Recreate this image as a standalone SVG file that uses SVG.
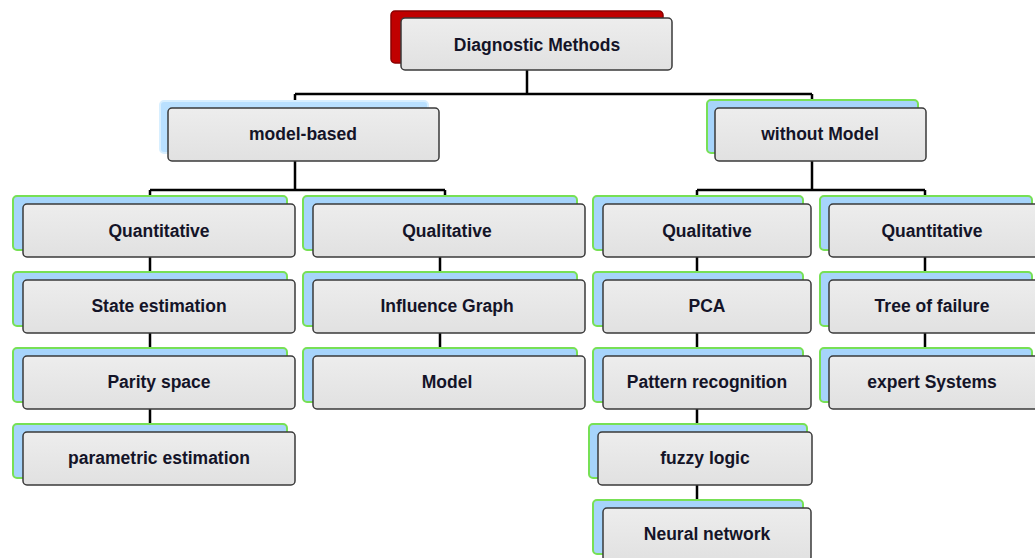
<svg xmlns="http://www.w3.org/2000/svg" width="1035" height="558" viewBox="0 0 1035 558">
<style>
.back{fill:#a6d4fb;stroke:#77e055;stroke-width:2}
.backb{fill:#b9e0ff;stroke:#d8efff;stroke-width:2}
.backr{fill:#c00000;stroke:#8a0000;stroke-width:1.5}
.front{fill:url(#g);stroke:#3a3a3a;stroke-width:1.5}
.t{font-family:"Liberation Sans",Arial,sans-serif;font-weight:bold;font-size:17.5px;fill:#141428;text-anchor:middle;dominant-baseline:central}
.c{stroke:#000;stroke-width:2.5;fill:none}
</style>
<defs>
<linearGradient id="g" x1="0" y1="0" x2="0" y2="1">
<stop offset="0" stop-color="#ededed"/>
<stop offset="1" stop-color="#e1e1e1"/>
</linearGradient>
</defs>
<g id="connectors">
<path class="c" d="M527 70V94M295 94H812M295 94V108M812 94V100"/>
<path class="c" d="M295 161V190M150 190H445M150 190V196M445 190V196"/>
<path class="c" d="M812 161V190M697 190H925M697 190V196M925 190V196"/>
<path class="c" d="M150 257V272M150 333V348M150 409V424"/>
<path class="c" d="M440 257V272M440 333V348"/>
<path class="c" d="M697 257V272M697 333V348M697 409V424M697 485V500"/>
<path class="c" d="M925 257V272M925 333V348"/>
</g>
<g id="n-root"><rect class="backr" x="391" y="11" width="272" height="52" rx="4"/><rect class="front" x="401" y="18" width="271" height="52" rx="4"/><text class="t" x="537" y="45">Diagnostic  Methods</text></g>
<g id="n-model-based"><rect class="backb" x="160" y="101" width="268" height="52" rx="4"/><rect class="front" x="168" y="108" width="271" height="53" rx="4"/><text class="t" x="303" y="134">model-based</text></g>
<g id="n-without"><rect class="back" x="707" y="100" width="211" height="53" rx="4"/><rect class="front" x="715" y="108" width="211" height="53" rx="4"/><text class="t" x="820" y="134">without Model</text></g>

<g id="n-quant1"><rect class="back" x="13" y="196" width="274" height="54" rx="4"/><rect class="front" x="23" y="204" width="272" height="53" rx="4"/><text class="t" x="159" y="231">Quantitative</text></g>
<g id="n-state"><rect class="back" x="13" y="272" width="274" height="54" rx="4"/><rect class="front" x="23" y="280" width="272" height="53" rx="4"/><text class="t" x="159" y="306">State estimation</text></g>
<g id="n-parity"><rect class="back" x="13" y="348" width="274" height="54" rx="4"/><rect class="front" x="23" y="356" width="272" height="53" rx="4"/><text class="t" x="159" y="382">Parity space</text></g>
<g id="n-param"><rect class="back" x="13" y="424" width="274" height="54" rx="4"/><rect class="front" x="23" y="432" width="272" height="53" rx="4"/><text class="t" x="159" y="458">parametric estimation</text></g>

<g id="n-qual1"><rect class="back" x="303" y="196" width="274" height="54" rx="4"/><rect class="front" x="313" y="204" width="272" height="53" rx="4"/><text class="t" x="447" y="231">Qualitative</text></g>
<g id="n-influence"><rect class="back" x="303" y="272" width="274" height="54" rx="4"/><rect class="front" x="313" y="280" width="272" height="53" rx="4"/><text class="t" x="447" y="306">Influence Graph</text></g>
<g id="n-model"><rect class="back" x="303" y="348" width="274" height="54" rx="4"/><rect class="front" x="313" y="356" width="272" height="53" rx="4"/><text class="t" x="447" y="382">Model</text></g>

<g id="n-qual2"><rect class="back" x="593" y="196" width="210" height="54" rx="4"/><rect class="front" x="603" y="204" width="208" height="53" rx="4"/><text class="t" x="707" y="231">Qualitative</text></g>
<g id="n-pca"><rect class="back" x="593" y="272" width="210" height="54" rx="4"/><rect class="front" x="603" y="280" width="208" height="53" rx="4"/><text class="t" x="707" y="306">PCA</text></g>
<g id="n-pattern"><rect class="back" x="593" y="348" width="210" height="54" rx="4"/><rect class="front" x="603" y="356" width="208" height="53" rx="4"/><text class="t" x="707" y="382">Pattern recognition</text></g>
<g id="n-fuzzy"><rect class="back" x="589" y="424" width="218" height="54" rx="4"/><rect class="front" x="598" y="432" width="214" height="53" rx="4"/><text class="t" x="705" y="458">fuzzy logic</text></g>
<g id="n-neural"><rect class="back" x="593" y="500" width="210" height="54" rx="4"/><rect class="front" x="603" y="508" width="208" height="53" rx="4"/><text class="t" x="707" y="534">Neural network</text></g>

<g id="n-quant2"><rect class="back" x="820" y="196" width="212" height="54" rx="4"/><rect class="front" x="829" y="204" width="212" height="53" rx="4"/><text class="t" x="932" y="231">Quantitative</text></g>
<g id="n-tree"><rect class="back" x="820" y="272" width="212" height="54" rx="4"/><rect class="front" x="829" y="280" width="212" height="53" rx="4"/><text class="t" x="932" y="306">Tree of failure</text></g>
<g id="n-expert"><rect class="back" x="820" y="348" width="212" height="54" rx="4"/><rect class="front" x="829" y="356" width="212" height="53" rx="4"/><text class="t" x="932" y="382">expert Systems</text></g>
</svg>
